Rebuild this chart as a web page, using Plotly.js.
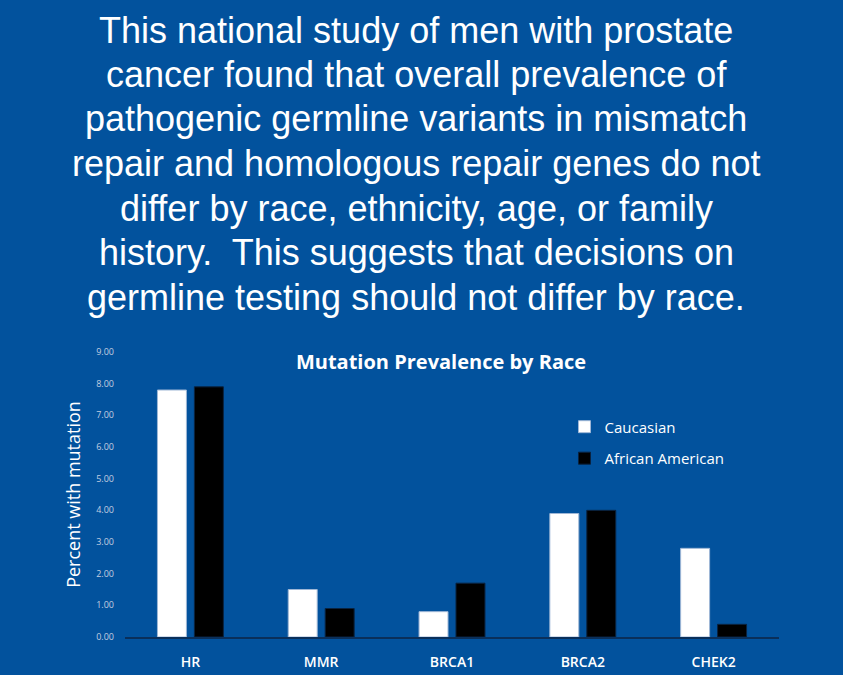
<!DOCTYPE html>
<html>
<head>
<meta charset="utf-8">
<script src="https://cdn.plot.ly/plotly-3.0.1.min.js"></script>
<style>html,body{margin:0;padding:0;background:#02529D;}#chart{width:843px;height:675px;}</style>
</head>
<body>
<div id="chart"></div>
<script>
const categories = ["HR", "MMR", "BRCA1", "BRCA2", "CHEK2"];
const caucasian = [7.8, 1.5, 0.8, 3.9, 2.8];
const africanAmerican = [7.9, 0.9, 1.7, 4.0, 0.4];
const seriesNames = ["Caucasian", "African American"];
const yTicks = [0, 1, 2, 3, 4, 5, 6, 7, 8, 9];
const headlineLines = [
  "This national study of men with prostate",
  "cancer found that overall prevalence of",
  "pathogenic germline variants in mismatch",
  "repair and homologous repair genes do not",
  "differ by race, ethnicity, age, or family",
  "history.  This suggests that decisions on",
  "germline testing should not differ by race."
];

const BG = "#02529D";
const FONT = "'Open Sans', Lato, sans-serif";

const traces = [
  {type: "bar", name: seriesNames[0], x: categories, y: caucasian,
   marker: {color: "#FFFFFF", line: {color: "#9FB7D6", width: 1}}, legendgroup: "a"},
  {type: "bar", name: seriesNames[1], x: categories, y: africanAmerican,
   marker: {color: "#000000", line: {color: "#0A2340", width: 1}}, legendgroup: "b"}
];

const plotTop = 352, plotBottom = 637;
const lineY0 = 30, lineStep = 44.5;
const annotations = headlineLines.map((t, i) => ({
  text: t, xref: "paper", yref: "paper",
  x: (416 - 125) / 654, xanchor: "center",
  y: (plotBottom - (lineY0 + i * lineStep)) / (plotBottom - plotTop), yanchor: "middle",
  showarrow: false,
  font: {family: "'Liberation Sans', Arial, sans-serif", size: 36, color: "#FFFFFF"}
}));

const layout = {
  width: 843, height: 675,
  paper_bgcolor: BG, plot_bgcolor: BG,
  margin: {l: 125, r: 64, t: plotTop, b: 675 - plotBottom},
  font: {family: FONT, color: "#FFFFFF"},
  title: {text: "<b>Mutation Prevalence by Race</b>", x: 441 / 843, xanchor: "center",
          y: 1 - 362 / 675, yanchor: "middle", xref: "container", yref: "container",
          font: {family: FONT, size: 20, color: "#FFFFFF"}},
  barmode: "group", bargap: 0.435, bargroupgap: 0.216,
  xaxis: {showline: true, linecolor: "#0A2F5A", linewidth: 2, showgrid: false, zeroline: false,
          ticks: "", tickfont: {family: FONT, size: 14, color: "#FFFFFF", weight: 600}, ticklabelstandoff: 11},
  yaxis: {range: [0, 9], tickvals: yTicks, tickformat: ".2f", showgrid: false, zeroline: false,
          showline: false, ticks: "", ticklabelstandoff: 10,
          tickfont: {family: FONT, size: 9, color: "#C3CEE0"},
          title: {text: "Percent with mutation", standoff: 10,
                  font: {family: FONT, size: 18, color: "#FFFFFF"}}},
  legend: {x: 0.672, y: 0.795, xanchor: "left", yanchor: "top", bgcolor: "rgba(0,0,0,0)",
           font: {family: FONT, size: 15, color: "#FFFFFF"}, traceorder: "grouped",
           tracegroupgap: 9, itemwidth: 30},
  showlegend: true,
  annotations: annotations
};

Plotly.newPlot("chart", traces, layout, {displayModeBar: false, staticPlot: true});
</script>
</body>
</html>
